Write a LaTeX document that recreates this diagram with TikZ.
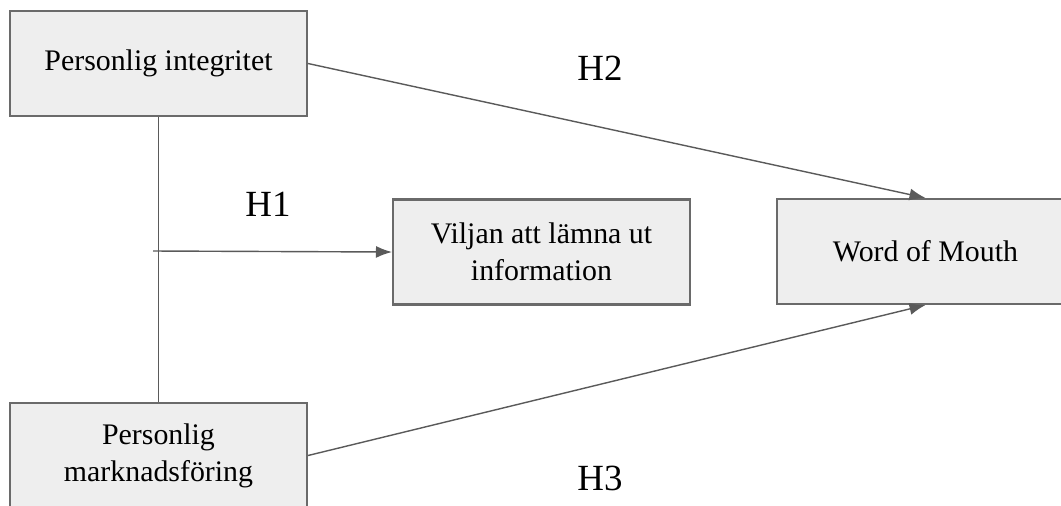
\documentclass[tikz,border=0pt]{standalone}
\usepackage{fontspec}
\setmainfont{Liberation Serif}
\usetikzlibrary{arrows.meta}
\definecolor{boxfill}{HTML}{EEEEEE}
\definecolor{boxline}{HTML}{6A6A6A}
\definecolor{arrline}{HTML}{5A5A5A}
\tikzset{
  box/.style = {draw=boxline, line width=1.2pt, fill=boxfill, minimum width=5.94cm,
    minimum height=2.1cm, align=center, font=\fontsize{17}{21}\selectfont, inner sep=0pt},
  conn/.style = {draw=arrline, line width=0.8pt},
  hyp/.style = {font=\fontsize{21}{24}\selectfont}
}
\begin{document}
\begin{tikzpicture}[x=0.02cm, y=-0.02cm]
  \useasboundingbox (0,0) rectangle (1061,505);
  \node[box] (pi) at (158.5,63.5) {Personlig integritet};
  \node[box] (vi) at (541.5,252) {Viljan att lämna ut\\information};
  \node[box] (wom) at (925.5,251.5) {Word of Mouth};
  \node[box] (pm) at (158.5,455.5) {Personlig\\marknadsföring};
  \coordinate (h1) at (153,251);
  \draw[conn] (pi.south)--(pm.north);
  \draw[conn, -{Latex[length=3.2mm,width=2.4mm]}] (h1)--(vi.west);
  \draw[conn, -{Latex[length=3.2mm,width=2.4mm]}] (pi.east)--(wom.north);
  \draw[conn, -{Latex[length=3.2mm,width=2.4mm]}] (pm.east)--(wom.south);
  \node[hyp] (h1lab) at (268,204) {H1};
  \node[hyp] (h2lab) at (600,68) {H2};
  \node[hyp] (h3lab) at (600,478) {H3};
\end{tikzpicture}
\end{document}
